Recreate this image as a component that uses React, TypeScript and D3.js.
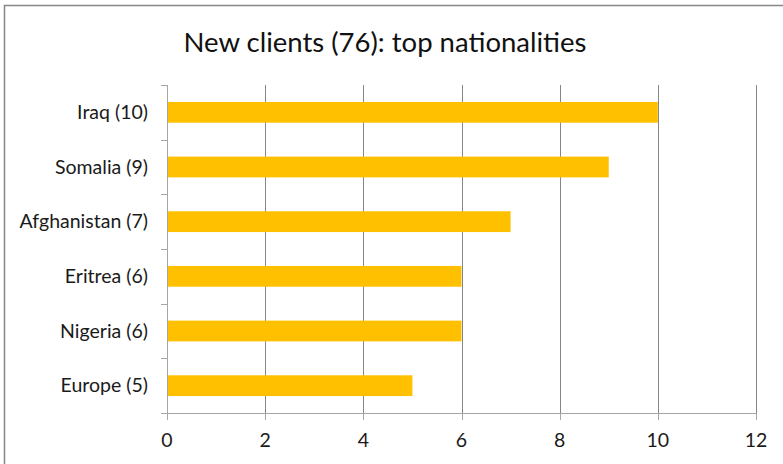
import React from "react";
import * as d3 from "d3";

const categories = ["Iraq (10)", "Somalia (9)", "Afghanistan (7)", "Eritrea (6)", "Nigeria (6)", "Europe (5)"];
const values = [10, 9, 7, 6, 6, 5];
const xTicks = [0, 2, 4, 6, 8, 10, 12];
const title = "New clients (76): top nationalities";

const W = 783;
const H = 464;
const left = 167;
const right = 756;
const top = 85;
const bottom = 413;
const FONT = "Lato, 'Open Sans', sans-serif";

export default function App() {
  const x = d3.scaleLinear().domain([0, 12]).range([left, right]);
  const y = d3.scaleBand<string>().domain(categories).range([top, bottom]).paddingInner(0.62).paddingOuter(0.31);
  const yb = d3.scaleBand<string>().domain(categories).range([top, bottom]);
  const boundaries = d3.range(categories.length + 1).map((i) => top + i * yb.step());
  return (
    <div style={{ position: "absolute", left: 0, top: 0 }}>
      <svg width={W} height={H} style={{ display: "block" }}>
        <rect x={0} y={0} width={W} height={H} fill="#fff" />
        <rect x={4.5} y={5.5} width={W + 10} height={H + 10} fill="none" stroke="#868686" strokeWidth={1.5} />
        <text x={385} y={52} textAnchor="middle" fontFamily={FONT} fontSize={27.5} fill="#111">{title}</text>
        {xTicks.slice(1).map((t) => (
          <line key={"g" + t} x1={Math.round(x(t)) + 0.5} x2={Math.round(x(t)) + 0.5} y1={top} y2={bottom} stroke="#868686" strokeWidth={1} />
        ))}
        {categories.map((c, i) => (
          <rect key={c} x={x(0)} y={y(c)!} width={x(values[i]) - x(0)} height={y.bandwidth()} fill="#FFC000" />
        ))}
        <line x1={left + 0.5} x2={left + 0.5} y1={top} y2={bottom} stroke="#a6a6a6" />
        {boundaries.map((b, i) => (
          <line key={"yt" + i} x1={left - 6} x2={left} y1={Math.round(b) + 0.5} y2={Math.round(b) + 0.5} stroke="#a6a6a6" />
        ))}
        <line x1={left - 6} x2={right} y1={bottom + 0.5} y2={bottom + 0.5} stroke="#a6a6a6" />
        {xTicks.map((t) => (
          <line key={"xt" + t} x1={Math.round(x(t)) + 0.5} x2={Math.round(x(t)) + 0.5} y1={bottom} y2={bottom + 7} stroke="#a6a6a6" />
        ))}
        {xTicks.map((t) => (
          <text key={"xl" + t} x={x(t)} y={447} textAnchor="middle" fontFamily={FONT} fontSize={19.5} fill="#1a1a1a">{t}</text>
        ))}
        {categories.map((c) => (
          <text key={"yl" + c} x={148} y={y(c)! + y.bandwidth() / 2} dy="0.35em" textAnchor="end" fontFamily={FONT} fontSize={19.5} fill="#1a1a1a">{c}</text>
        ))}
      </svg>
    </div>
  );
}
